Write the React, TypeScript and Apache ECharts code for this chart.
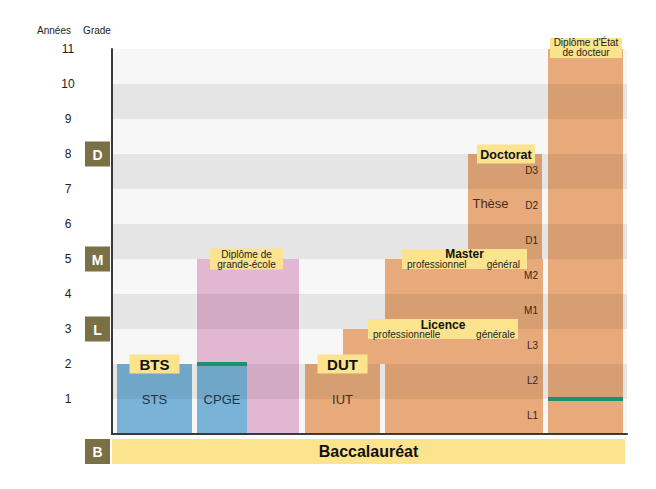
import { useEffect, useRef } from 'react';
import * as echarts from 'echarts';

// ---------- data ----------
const yearTicks = [1, 2, 3, 4, 5, 6, 7, 8, 9, 10, 11];
const bandStarts = [0, 1, 2, 3, 4, 5, 6, 7, 8, 9, 10];

const gradeLetters = ['B', 'L', 'M', 'D'];
const gradeYears = [-0.5, 3, 5, 8];

const programNames = ['Grande école', 'STS', 'CPGE', 'IUT', 'Licence pro', 'Université', 'Doctorat', 'Médecine'];
const programFrom = [0, 0, 0, 0, 2, 0, 5, 0];
const programTo = [5, 2, 2, 2, 3, 5, 8, 11];
const programKind = ['ecole', 'bts', 'bts', 'univ', 'univ', 'univ', 'univ', 'univ'];
const programColumn = ['ecole', 'sts', 'cpge', 'iut', 'lpro', 'univ', 'doct', 'med'];

const insideTexts = ['STS', 'CPGE', 'IUT', 'Thèse'];
const insideYears = [1, 1, 1, 6.6];
const insideColumn = ['sts', 'cpge', 'iut', 'these'];

const levelNames = ['L1', 'L2', 'L3', 'M1', 'M2', 'D1', 'D2', 'D3'];
const levelYears = [0.52, 1.52, 2.52, 3.52, 4.52, 5.52, 6.52, 7.52];

const greenMarkYears = [2, 1];
const greenMarkColumn = ['cpge', 'med'];

const diplomaTitles = ['BTS', 'DUT', '', 'Licence', 'Master', 'Doctorat', ''];
const diplomaLines = [[], [], ['Diplôme de', 'grande-école'], [], [], [], ["Diplôme d'État", 'de docteur']];
const diplomaSubLeft = ['', '', '', 'professionnelle', 'professionnel', '', ''];
const diplomaSubRight = ['', '', '', 'générale', 'général', '', ''];
const diplomaYears = [2, 2, 5, 3, 5, 8, 11.03];

const bacLabel = 'Baccalauréat';

// ---------- layout (horizontal extents, in axis units) ----------
const COLS: Record<string, [number, number]> = {
  sts: [5, 80], cpge: [85, 135], ecole: [85, 187], iut: [193, 268],
  lpro: [231, 431], univ: [273, 431], doct: [356, 430], med: [436, 511],
  these: [360, 397], all: [0, 515], bac: [0, 513], grade: [-27, -2],
};
const DIPLOMA_BOX = [
  { cx: 42.5, w: 50, h: 19, tSize: 15, tdy: 0 },
  { cx: 230.5, w: 50, h: 19, tSize: 15, tdy: 0 },
  { cx: 134.5, w: 73, h: 21, tSize: 12, tdy: 0 },
  { cx: 331, w: 150, h: 20, tSize: 12, tdy: -4.5, sl: -70, sr: 72 },
  { cx: 352.5, w: 125, h: 20, tSize: 12, tdy: -5, sl: -57.5, sr: 55.5 },
  { cx: 394, w: 58, h: 19, tSize: 12.5, tdy: 1 },
  { cx: 474, w: 72, h: 20, tSize: 12, tdy: 0 },
];

const BLUE = '#79b3d7';
const PINK = '#e2b7d2';
const ORANGE = '#e8aa7b';
const YELLOW = '#fce38e';
const OLIVE = '#7a6f45';
const GREEN = '#1b9170';
const KIND_COLOR: Record<string, string> = { bts: BLUE, ecole: PINK, univ: ORANGE };
const FONT = '"Liberation Sans", Arial, sans-serif';

const mid = (c: [number, number]) => (c[0] + c[1]) / 2;

function rectFrom(api: any, x0: number, y1: number, x1: number, y0: number) {
  const a = api.coord([x0, y1]);
  const b = api.coord([x1, y0]);
  return { x: a[0], y: a[1], width: b[0] - a[0], height: b[1] - a[1] };
}

export default function App() {
  const ref = useRef<HTMLDivElement>(null);
  useEffect(() => {
    if (!ref.current) return;
    const chart = echarts.init(ref.current, undefined, { renderer: 'svg' });

    const option: any = {
      animation: false,
      backgroundColor: '#ffffff',
      grid: { left: 112, right: 29, top: 49, bottom: 55 },
      xAxis: {
        type: 'value', min: 0, max: 515, z: 10,
        axisLine: { show: true, onZero: false, lineStyle: { color: '#3a3a3a', width: 2 } },
        axisTick: { show: false }, axisLabel: { show: false }, splitLine: { show: false },
      },
      yAxis: {
        type: 'value', min: 0, max: 11, interval: 1, z: 10,
        axisLine: { show: true, lineStyle: { color: '#3a3a3a', width: 2 } },
        axisTick: { show: false }, splitLine: { show: false },
        axisLabel: {
          margin: 44, align: 'center', fontSize: 12, color: '#222', fontFamily: FONT,
          formatter: (v: number) => (yearTicks.includes(v) ? String(v) : ''),
        },
      },
      graphic: [
        { type: 'text', x: 54, y: 30, style: { text: 'Années', fontSize: 10, fontFamily: FONT, fill: '#222', align: 'center', verticalAlign: 'middle' } },
        { type: 'text', x: 97, y: 30, style: { text: 'Grade', fontSize: 10, fontFamily: FONT, fill: '#222', align: 'center', verticalAlign: 'middle' } },
      ],
      series: [
        {
          type: 'custom', z: 1, clip: false,
          data: bandStarts.map((b) => [0, b]),
          renderItem: (p: any, api: any) => {
            const b = bandStarts[p.dataIndex];
            return { type: 'rect', shape: rectFrom(api, COLS.all[0], b + 1, COLS.all[1], b), style: { fill: '#f7f7f7' } };
          },
        },
        {
          type: 'custom', z: 2, clip: false,
          data: programNames.map((_, i) => [mid(COLS[programColumn[i]]), programTo[i]]),
          renderItem: (p: any, api: any) => {
            const i = p.dataIndex;
            const c = COLS[programColumn[i]];
            return { type: 'rect', shape: rectFrom(api, c[0], programTo[i], c[1], programFrom[i]), style: { fill: KIND_COLOR[programKind[i]] } };
          },
        },
        {
          type: 'custom', z: 3, clip: false,
          data: bandStarts.filter((b) => b % 2 === 1).map((b) => [0, b]),
          renderItem: (p: any, api: any) => {
            const b = bandStarts.filter((x) => x % 2 === 1)[p.dataIndex];
            return { type: 'rect', shape: rectFrom(api, COLS.all[0], b + 1, COLS.all[1], b), style: { fill: 'rgba(0,0,0,0.072)' } };
          },
        },
        {
          type: 'custom', z: 4, clip: false,
          data: greenMarkYears.map((y, i) => [mid(COLS[greenMarkColumn[i]]), y]),
          renderItem: (p: any, api: any) => {
            const i = p.dataIndex;
            const c = COLS[greenMarkColumn[i]];
            const a = api.coord([c[0], greenMarkYears[i]]);
            const b = api.coord([c[1], greenMarkYears[i]]);
            return { type: 'rect', shape: { x: a[0], y: a[1] - 2, width: b[0] - a[0], height: 4 }, style: { fill: GREEN } };
          },
        },
        {
          type: 'custom', z: 5, clip: false,
          data: insideTexts.map((_, i) => [mid(COLS[insideColumn[i]]), insideYears[i]]),
          renderItem: (p: any, api: any) => {
            const i = p.dataIndex;
            const pt = api.coord([mid(COLS[insideColumn[i]]), insideYears[i]]);
            const fill = insideColumn[i] === 'sts' || insideColumn[i] === 'cpge' ? '#1f3446' : '#4a2c1a';
            return { type: 'text', x: pt[0], y: pt[1], style: { text: insideTexts[i], fontSize: 13, fontFamily: FONT, fill, align: 'center', verticalAlign: 'middle' } };
          },
        },
        {
          type: 'custom', z: 5, clip: false,
          data: levelNames.map((_, i) => [426, levelYears[i]]),
          renderItem: (p: any, api: any) => {
            const i = p.dataIndex;
            const pt = api.coord([426, levelYears[i]]);
            return { type: 'text', x: pt[0], y: pt[1], style: { text: levelNames[i], fontSize: 10, fontFamily: FONT, fill: '#3a2618', align: 'right', verticalAlign: 'middle' } };
          },
        },
        {
          type: 'custom', z: 6, clip: false,
          data: diplomaYears.map((y, i) => [DIPLOMA_BOX[i].cx, y]),
          renderItem: (p: any, api: any) => {
            const i = p.dataIndex;
            const L = DIPLOMA_BOX[i];
            const pt = api.coord([L.cx, diplomaYears[i]]);
            const children: any[] = [
              { type: 'rect', shape: { x: pt[0] - L.w / 2, y: pt[1] - L.h / 2, width: L.w, height: L.h }, style: { fill: YELLOW } },
            ];
            if (diplomaTitles[i]) {
              children.push({ type: 'text', x: pt[0], y: pt[1] + L.tdy, style: { text: diplomaTitles[i], fontSize: L.tSize, fontWeight: 'bold', fontFamily: FONT, fill: '#111', align: 'center', verticalAlign: 'middle' } });
            }
            const lines = diplomaLines[i];
            lines.forEach((t, k) => {
              children.push({ type: 'text', x: pt[0], y: pt[1] + (k - (lines.length - 1) / 2) * 10, style: { text: t, fontSize: 10, fontFamily: FONT, fill: '#222', align: 'center', verticalAlign: 'middle' } });
            });
            if (diplomaSubLeft[i]) {
              children.push({ type: 'text', x: pt[0] + (L.sl as number), y: pt[1] + 5, style: { text: diplomaSubLeft[i], fontSize: 10, fontFamily: FONT, fill: '#222', align: 'left', verticalAlign: 'middle' } });
              children.push({ type: 'text', x: pt[0] + (L.sr as number), y: pt[1] + 5, style: { text: diplomaSubRight[i], fontSize: 10, fontFamily: FONT, fill: '#222', align: 'right', verticalAlign: 'middle' } });
            }
            return { type: 'group', children };
          },
        },
        {
          type: 'custom', z: 6, clip: false,
          data: gradeYears.map((y) => [mid(COLS.grade), y]),
          renderItem: (p: any, api: any) => {
            const i = p.dataIndex;
            const pt = api.coord([mid(COLS.grade), gradeYears[i]]);
            const a = api.coord([COLS.grade[0], 0]);
            const b = api.coord([COLS.grade[1], 0]);
            const w = b[0] - a[0];
            return {
              type: 'group', children: [
                { type: 'rect', shape: { x: a[0], y: pt[1] - w / 2, width: w, height: w }, style: { fill: OLIVE } },
                { type: 'text', x: pt[0], y: pt[1] + 0.5, style: { text: gradeLetters[i], fontSize: 14, fontWeight: 'bold', fontFamily: FONT, fill: '#fff', align: 'center', verticalAlign: 'middle' } },
              ],
            };
          },
        },
        {
          type: 'custom', z: 6, clip: false,
          data: [[mid(COLS.bac), -0.5]],
          renderItem: (p: any, api: any) => {
            const r = rectFrom(api, COLS.bac[0], -0.143, COLS.bac[1], -0.857);
            const pt = api.coord([mid(COLS.bac), -0.5]);
            return {
              type: 'group', children: [
                { type: 'rect', shape: r, style: { fill: YELLOW } },
                { type: 'text', x: pt[0], y: pt[1], style: { text: bacLabel, fontSize: 16, fontWeight: 'bold', fontFamily: FONT, fill: '#111', align: 'center', verticalAlign: 'middle' } },
              ],
            };
          },
        },
      ],
    };
    chart.setOption(option);
    return () => chart.dispose();
  }, []);
  return <div ref={ref} style={{ position: 'fixed', left: 0, top: 0, width: 656, height: 489 }} />;
}
